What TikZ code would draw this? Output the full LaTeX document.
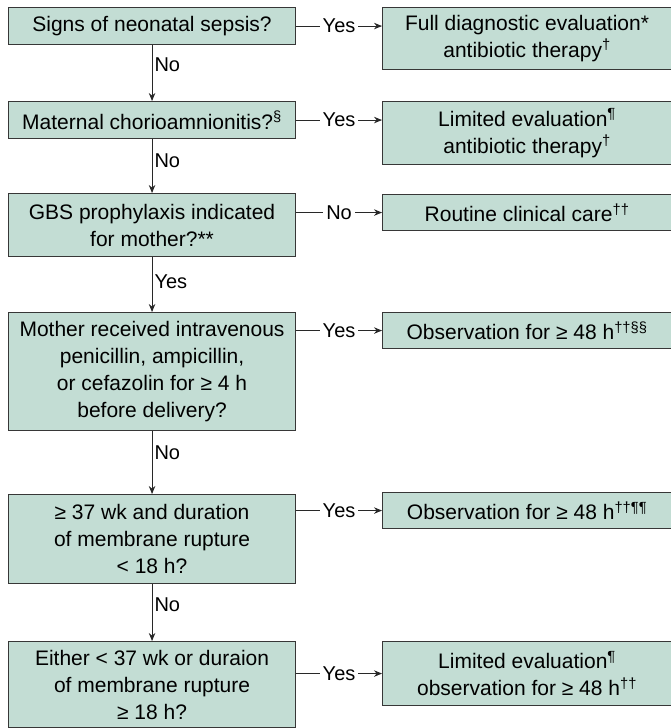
\documentclass[tikz,border=0pt]{standalone}
\usepackage{fontspec}
\setmainfont{Liberation Sans}
\usetikzlibrary{arrows.meta}
\definecolor{boxfill}{RGB}{195,221,212}
\definecolor{boxline}{RGB}{55,55,55}
\definecolor{connline}{RGB}{40,40,40}
\newcommand{\sups}[1]{\textsuperscript{#1}}
\tikzset{
  boxbase/.style={draw=boxline, fill=boxfill, line width=1.1pt, inner sep=0pt,
    align=center, anchor=north west, font=\fontsize{21}{27}\selectfont},
  leftbox/.style={boxbase, minimum width=287pt},
  rightbox/.style={boxbase, minimum width=289pt},
  conn/.style={draw=connline, line width=0.9pt, -{Stealth[length=8pt,width=6.5pt]}},
  hlab/.style={fill=white, inner sep=3pt, font=\fontsize{20}{24}\selectfont},
  vlab/.style={anchor=west, inner sep=2pt, font=\fontsize{20}{24}\selectfont}
}
\begin{document}
\begin{tikzpicture}[x=1pt,y=-1pt]
\useasboundingbox (0,0) rectangle (671,728);

\node[leftbox, minimum height=37pt] (L1) at (8,7) {Signs of neonatal sepsis?};
\node[rightbox, minimum height=62pt] (R1) at (382,7) {Full diagnostic evaluation*\\antibiotic therapy\sups{†}};

\node[leftbox, minimum height=37pt] (L2) at (8,101) {Maternal chorioamnionitis?\sups{§}};
\node[rightbox, minimum height=63pt] (R2) at (382,101) {Limited evaluation\sups{¶}\\antibiotic therapy\sups{†}};

\node[leftbox, minimum height=63pt] (L3) at (8,193) {GBS prophylaxis indicated\\for mother?**};
\node[rightbox, minimum height=36pt] (R3) at (382,194) {Routine clinical care\sups{††}};

\node[leftbox, minimum height=118pt] (L4) at (8,312) {Mother received intravenous\\penicillin, ampicillin,\\or cefazolin for ≥ 4 h\\before delivery?};
\node[rightbox, minimum height=36pt] (R4) at (382,312) {Observation for ≥ 48 h\sups{††§§}};

\node[leftbox, minimum height=89pt] (L5) at (8,494) {≥ 37 wk and duration\\of membrane rupture\\< 18 h?};
\node[rightbox, minimum height=36pt] (R5) at (382,492) {Observation for ≥ 48 h\sups{††¶¶}};

\node[leftbox, minimum height=86pt] (L6) at (8,641) {Either < 37 wk or duraion\\of membrane rupture\\≥ 18 h?};
\node[rightbox, minimum height=64pt] (R6) at (382,641) {Limited evaluation\sups{¶}\\observation for ≥ 48 h\sups{††}};

% vertical connectors
\draw[conn] (L1) -- node[vlab, pos=0.35] {No} (L2);
\draw[conn] (L2) -- node[vlab, pos=0.4] {No} (L3);
\draw[conn] (L3) -- node[vlab, pos=0.45] {Yes} (L4);
\draw[conn] (L4) -- node[vlab, pos=0.35] {No} (L5);
\draw[conn] (L5) -- node[vlab, pos=0.37] {No} (L6);

% horizontal connectors
\draw[conn] (L1.east) -- node[hlab] {Yes} (L1.east -| R1.west);
\draw[conn] (L2.east) -- node[hlab] {Yes} (L2.east -| R2.west);
\draw[conn] (R3.west -| L3.east) -- node[hlab] {No} (R3.west);
\draw[conn] (R4.west -| L4.east) -- node[hlab] {Yes} (R4.west);
\draw[conn] (R5.west -| L5.east) -- node[hlab] {Yes} (R5.west);
\draw[conn] (R6.west -| L6.east) -- node[hlab] {Yes} (R6.west);
\end{tikzpicture}
\end{document}
